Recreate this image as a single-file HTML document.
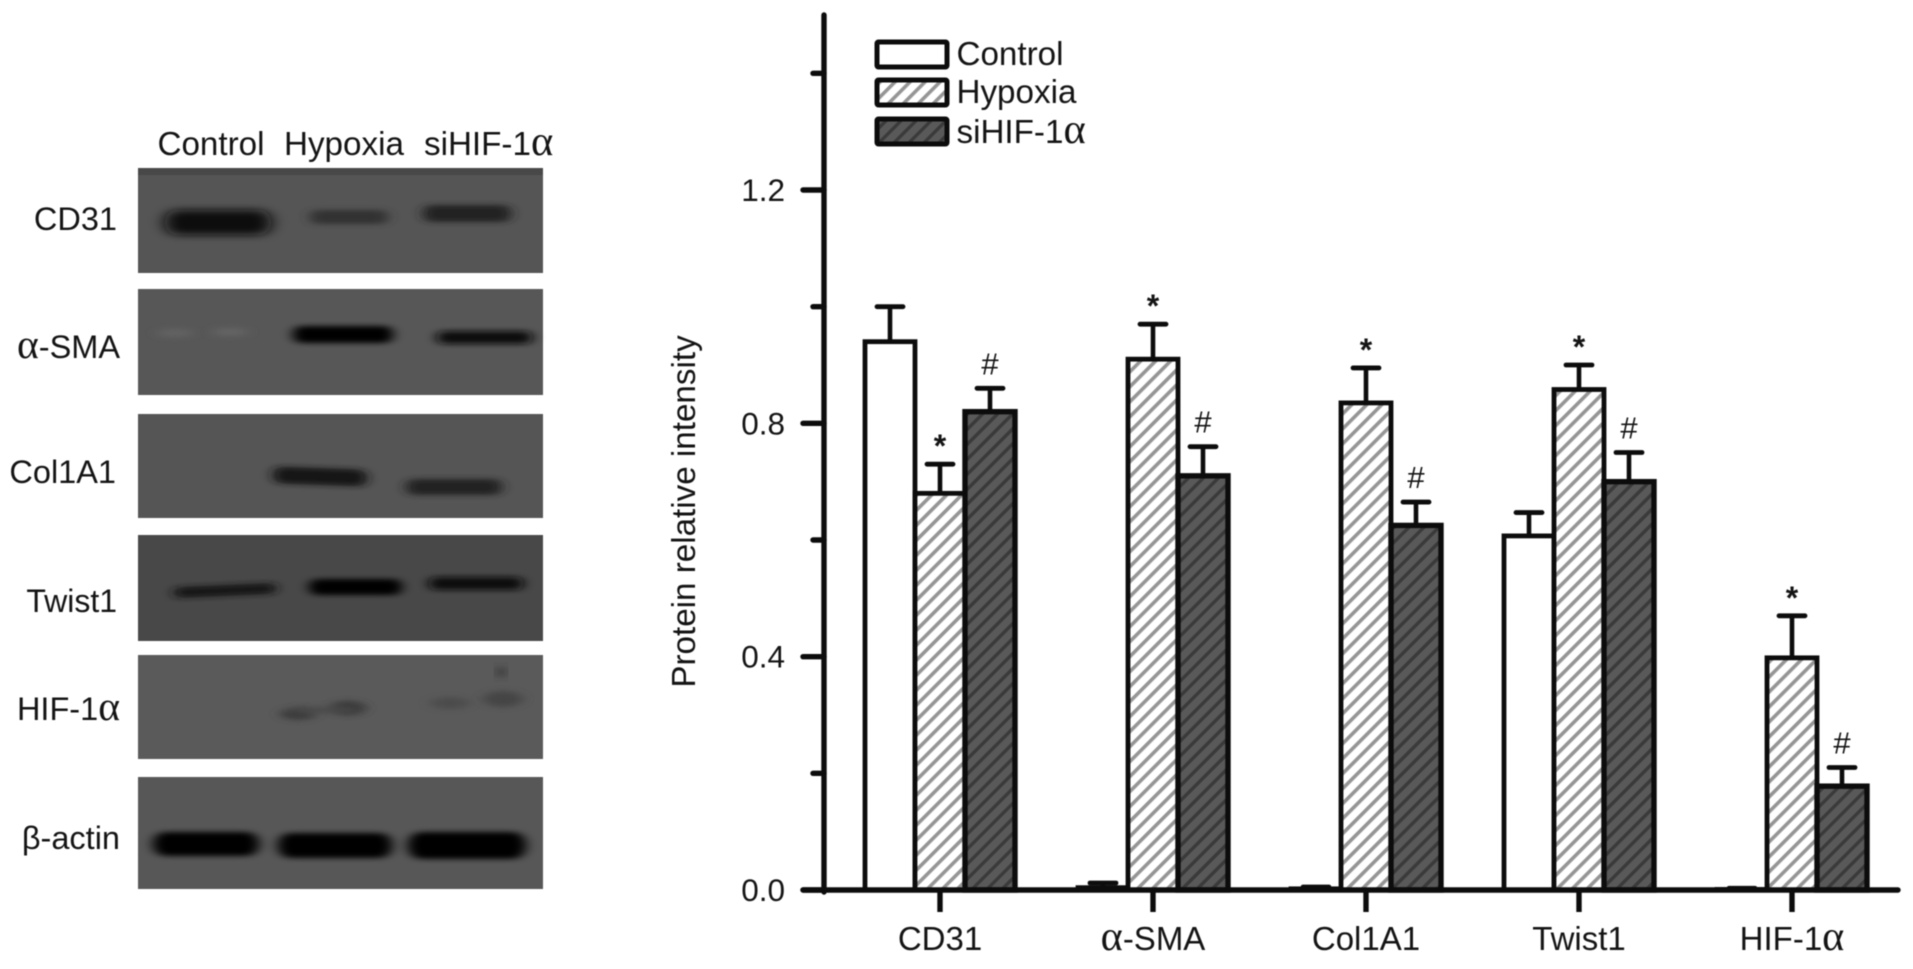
<!DOCTYPE html>
<html lang="en">
<head>
<meta charset="utf-8">
<title>Protein relative intensity</title>
<style>
html,body{margin:0;padding:0;background:#fff;width:1913px;height:969px;overflow:hidden}
svg{display:block;filter:blur(.6px)}
text{font-family:"Liberation Sans",Arial,sans-serif;fill:#141414}
.greek{font-family:"Liberation Serif",serif;font-size:1.28em}
</style>
</head>
<body>
<svg id="figure" xmlns="http://www.w3.org/2000/svg" width="1913" height="969" viewBox="0 0 1913 969">
<defs>
<pattern id="hatch-light" patternUnits="userSpaceOnUse" width="10.6" height="10.6" patternTransform="rotate(45)">
<rect width="10.6" height="10.6" fill="#fff"/><rect width="3.6" height="10.6" fill="#959595"/>
</pattern>
<pattern id="hatch-dark" patternUnits="userSpaceOnUse" width="10.6" height="10.6" patternTransform="rotate(45)">
<rect width="10.6" height="10.6" fill="#595959"/><rect width="3.4" height="10.6" fill="#3a3a3a"/>
</pattern>
<filter id="b6" x="-30%" y="-120%" width="160%" height="340%"><feGaussianBlur stdDeviation="8 4"/></filter>
<filter id="b3" x="-30%" y="-120%" width="160%" height="340%"><feGaussianBlur stdDeviation="6 2.6"/></filter>
<filter id="b2" x="-40%" y="-120%" width="180%" height="340%"><feGaussianBlur stdDeviation="6 3"/></filter>
</defs>

<g>
<g font-size="33.2">
<text x="157.5" y="155">Control</text>
<text x="284" y="155">Hypoxia</text>
<text x="424" y="155">siHIF-1<tspan class="greek">α</tspan></text>
</g>

<g>
<rect x="138" y="168" width="405" height="105" fill="#555"/>
<rect x="138" y="168" width="405" height="7" fill="#484848"/>
<rect x="165" y="210" width="106" height="25" rx="12" fill="#0e0e0e" filter="url(#b6)"/>
<rect x="310" y="210" width="78" height="14" rx="7" fill="#303030" filter="url(#b3)"/>
<rect x="423" y="205" width="88" height="17" rx="8" fill="#222" filter="url(#b3)"/>
</g>
<text x="117" y="230" font-size="32.5" text-anchor="end">CD31</text>

<g>
<rect x="138" y="289" width="405" height="106" fill="#575757"/>
<ellipse cx="175" cy="333" rx="18" ry="4" fill="#636363" filter="url(#b2)"/>
<ellipse cx="230" cy="332" rx="18" ry="4" fill="#656565" filter="url(#b2)"/>
<rect x="293" y="326" width="100" height="17" rx="8" fill="#040404" filter="url(#b3)"/>
<rect x="437" y="331" width="95" height="13" rx="6" fill="#111" filter="url(#b3)"/>
</g>
<text x="120" y="358" font-size="32.5" text-anchor="end"><tspan class="greek">α</tspan>-SMA</text>

<g>
<rect x="138" y="414" width="405" height="104" fill="#555"/>
<rect x="273" y="468" width="94" height="17" rx="8" fill="#161616" filter="url(#b3)" transform="rotate(2 320 477)"/>
<rect x="406" y="479" width="96" height="16" rx="8" fill="#222" filter="url(#b3)"/>
</g>
<text x="116" y="483" font-size="32.5" text-anchor="end">Col1A1</text>

<g>
<rect x="138" y="535" width="405" height="106" fill="#484848"/>
<rect x="174" y="585" width="102" height="11" rx="5" fill="#141414" transform="rotate(-2.5 225 591)" filter="url(#b3)"/>
<rect x="309" y="579" width="93" height="16" rx="8" fill="#060606" filter="url(#b3)"/>
<rect x="429" y="577" width="94" height="13" rx="6" fill="#0a0a0a" filter="url(#b3)"/>
</g>
<text x="117" y="612" font-size="32" text-anchor="end">Twist1</text>

<g>
<rect x="138" y="655" width="405" height="104" fill="#5a5a5a"/>
<ellipse cx="298" cy="714" rx="18" ry="6" fill="#3a3a3a" filter="url(#b2)"/>
<ellipse cx="348" cy="708" rx="18" ry="7" fill="#383838" filter="url(#b2)"/>
<rect x="295" y="707" width="60" height="6" fill="#484848" filter="url(#b2)"/>
<ellipse cx="450" cy="703" rx="20" ry="6" fill="#4c4c4c" filter="url(#b2)"/>
<ellipse cx="503" cy="699" rx="20" ry="8" fill="#444" filter="url(#b2)"/>
<ellipse cx="501" cy="672" rx="4" ry="6" fill="#303030" filter="url(#b2)"/>
</g>
<text x="120" y="720" font-size="32.5" text-anchor="end">HIF-1<tspan class="greek">α</tspan></text>

<g>
<rect x="138" y="777" width="405" height="112" fill="#575757"/>
<rect x="153" y="832" width="106" height="24" rx="12" fill="#000" filter="url(#b3)"/>
<rect x="278" y="833" width="114" height="25" rx="12" fill="#000" filter="url(#b3)"/>
<rect x="408" y="832" width="118" height="27" rx="13" fill="#000" filter="url(#b3)"/>
</g>
<text x="120" y="849" font-size="32.5" text-anchor="end">β-actin</text>
</g>

<g id="chart"></g>

<g font-size="33.2">
<g>
<rect x="877" y="42" width="70" height="25" rx="1.5" fill="#fff" stroke="#0c0c0c" stroke-width="5"/>
<text x="956.5" y="65">Control</text>
</g>
<g>
<rect x="877" y="80" width="70" height="25" rx="1.5" fill="url(#hatch-light)" stroke="#0c0c0c" stroke-width="5"/>
<text x="956.5" y="103">Hypoxia</text>
</g>
<g>
<rect x="877" y="119" width="70" height="25" rx="1.5" fill="url(#hatch-dark)" stroke="#0c0c0c" stroke-width="5"/>
<text x="956.5" y="143">siHIF-1<tspan class="greek">α</tspan></text>
</g>
</g>
</svg>

<script>
const categories = ['CD31', 'α-SMA', 'Col1A1', 'Twist1', 'HIF-1α'];
const seriesNames = ['control', 'hypoxia', 'sihif'];
const controlValues = [0.94, 0.004, 0.002, 0.607, 0.001];
const controlErrors = [0.06, 0.008, 0.003, 0.04, 0.002];
const hypoxiaValues = [0.68, 0.91, 0.835, 0.858, 0.398];
const hypoxiaErrors = [0.05, 0.06, 0.06, 0.042, 0.072];
const sihifValues = [0.82, 0.71, 0.625, 0.70, 0.178];
const sihifErrors = [0.04, 0.05, 0.04, 0.05, 0.032];
const controlMarks = ['', '', '', '', ''];
const hypoxiaMarks = ['*', '*', '*', '*', '*'];
const sihifMarks = ['#', '#', '#', '#', '#'];
const majorTicks = [0, 0.4, 0.8, 1.2];
const minorTicks = [0.2, 0.6, 1.0, 1.4];
const majorTickLabels = ['0.0', '0.4', '0.8', '1.2'];
const yAxisTitle = 'Protein relative intensity';

const NS = 'http://www.w3.org/2000/svg';
const chart = document.getElementById('chart');
const yScale = v => 890 - v * 583.33;
const xScale = i => 940 + 213 * i;
const BAR_W = 50;
const INK = '#0c0c0c';

function make(tag, attrs, parent) {
  const el = document.createElementNS(NS, tag);
  Object.keys(attrs).forEach(k => el.setAttribute(k, attrs[k]));
  (parent || chart).appendChild(el);
  return el;
}
function slug(s) {
  return s.toLowerCase().replace('α', 'alpha').replace(/[^a-z0-9]+/g, '-');
}

const title = make('text', {transform: 'translate(695 511.5) rotate(-90)', 'text-anchor': 'middle', 'font-size': 33.2});
title.textContent = yAxisTitle;



const seriesData = [
  {values: controlValues, errors: controlErrors, marks: controlMarks, fill: '#fff', width: 4.8},
  {values: hypoxiaValues, errors: hypoxiaErrors, marks: hypoxiaMarks, fill: 'url(#hatch-light)', width: 4.8},
  {values: sihifValues, errors: sihifErrors, marks: sihifMarks, fill: 'url(#hatch-dark)', width: 5.4}
];

seriesData.forEach((s, j) => {
  const group = make('g', {});
  
  
  categories.forEach((cat, i) => {
    const cx = xScale(i) + (j - 1) * BAR_W;
    const top = yScale(s.values[i]);
    const errTop = yScale(s.values[i] + s.errors[i]);
    const key = seriesNames[j] + '-' + slug(cat);

    const stem = make('line', {x1: cx, x2: cx, y1: top, y2: errTop, stroke: INK, 'stroke-width': 4.6}, group);
    
    

    const cap = make('line', {x1: cx - 13, x2: cx + 13, y1: errTop, y2: errTop, stroke: INK, 'stroke-width': 4.8, 'stroke-linecap': 'round'}, group);
    
    

    const bar = make('rect', {x: cx - BAR_W / 2, y: top, width: BAR_W, height: 890 - top, fill: s.fill, stroke: INK, 'stroke-width': s.width}, group);
    
    

    if (s.marks[i]) {
      const isStar = s.marks[i] === '*';
      const mark = make('text', {x: cx, y: errTop - (isStar ? 7 : 14), 'text-anchor': 'middle', 'font-size': isStar ? 32 : 31, 'font-weight': isStar ? 700 : 400}, group);
      mark.textContent = s.marks[i];
      
      
    }
  });
});

const yAxis = make('line', {x1: 824, x2: 824, y1: yScale(1.5), y2: 892, stroke: INK, 'stroke-width': 5.4, 'stroke-linecap': 'round'});



const xAxis = make('line', {x1: 803, x2: 1898, y1: 890, y2: 890, stroke: INK, 'stroke-width': 5.4, 'stroke-linecap': 'round'});



majorTicks.forEach((v, i) => {
  const t = make('line', {x1: 803, x2: 824, y1: yScale(v), y2: yScale(v), stroke: INK, 'stroke-width': 5.4, 'stroke-linecap': 'round'});
  
  
  const label = make('text', {x: 785, y: yScale(v) + 11, 'text-anchor': 'end', 'font-size': 31.5});
  label.textContent = majorTickLabels[i];
  
  
});

minorTicks.forEach(v => {
  const t = make('line', {x1: 813, x2: 824, y1: yScale(v), y2: yScale(v), stroke: INK, 'stroke-width': 5.4, 'stroke-linecap': 'round'});
  
  
});

categories.forEach((cat, i) => {
  const t = make('line', {x1: xScale(i), x2: xScale(i), y1: 890, y2: 912, stroke: INK, 'stroke-width': 5.4});
  
  
  const label = make('text', {x: xScale(i), y: 950, 'text-anchor': 'middle', 'font-size': 33});
  label.innerHTML = cat.replace('α', '<tspan class="greek">α</tspan>');
  
  
});
</script>
</body>
</html>
